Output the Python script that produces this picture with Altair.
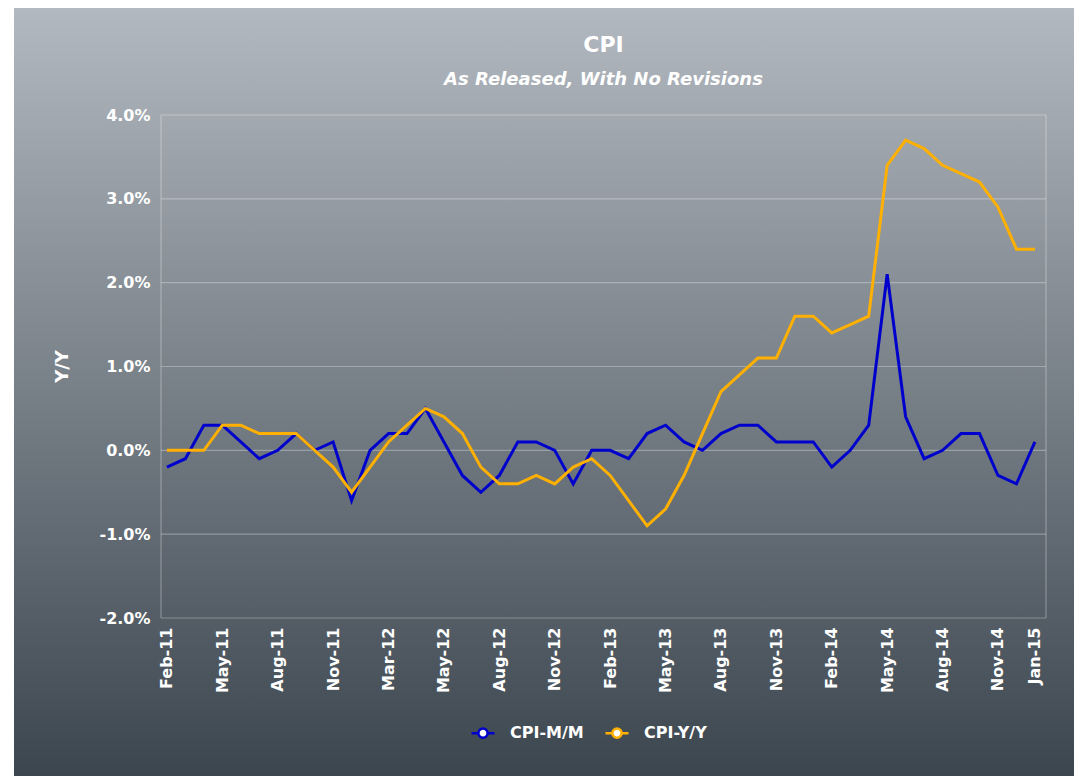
import json
import altair as alt
import pandas as pd

# ---------------- data ----------------
month_index = list(range(48))  # Feb-11 ... Jan-15
cpi_mm = [-0.2, -0.1, 0.3, 0.3, 0.1, -0.1, 0.0, 0.2, 0.0, 0.1,
          -0.6, 0.0, 0.2, 0.2, 0.5, 0.1, -0.3, -0.5, -0.3, 0.1,
          0.1, 0.0, -0.4, 0.0, 0.0, -0.1, 0.2, 0.3, 0.1, 0.0,
          0.2, 0.3, 0.3, 0.1, 0.1, 0.1, -0.2, 0.0, 0.3, 2.1,
          0.4, -0.1, 0.0, 0.2, 0.2, -0.3, -0.4, 0.1]
cpi_yy = [0.0, 0.0, 0.0, 0.3, 0.3, 0.2, 0.2, 0.2, 0.0, -0.2,
          -0.5, -0.2, 0.1, 0.3, 0.5, 0.4, 0.2, -0.2, -0.4, -0.4,
          -0.3, -0.4, -0.2, -0.1, -0.3, -0.6, -0.9, -0.7, -0.3, 0.2,
          0.7, 0.9, 1.1, 1.1, 1.6, 1.6, 1.4, 1.5, 1.6, 3.4,
          3.7, 3.6, 3.4, 3.3, 3.2, 2.9, 2.4, 2.4]
tick_positions = [0, 3, 6, 9, 12, 15, 18, 21, 24, 27, 30, 33, 36, 39, 42, 45, 47]
tick_labels = ["Feb-11", "May-11", "Aug-11", "Nov-11", "Mar-12", "May-12", "Aug-12",
               "Nov-12", "Feb-13", "May-13", "Aug-13", "Nov-13", "Feb-14", "May-14",
               "Aug-14", "Nov-14", "Jan-15"]
y_ticks = [-2, -1, 0, 1, 2, 3, 4]
series_names = ["CPI-M/M", "CPI-Y/Y"]
series_colors = ["#0000cc", "#ffb000"]

# ---------------- layout ----------------
W, H = 885, 503
FONT = "DejaVu Sans"

rows = []
for name, vals in zip(series_names, [cpi_mm, cpi_yy]):
    for i, v in zip(month_index, vals):
        rows.append({"idx": i, "series": name, "value": v})
df = pd.DataFrame(rows)

x_scale = alt.Scale(domain=[-0.32, 47.6], nice=False, zero=False)
y_scale = alt.Scale(domain=[-2, 4], nice=False, zero=False)

label_expr = f"{json.dumps(tick_labels)}[indexof({json.dumps(tick_positions)}, datum.value)]"

x_axis = alt.Axis(values=tick_positions, labelExpr=label_expr, labelAngle=270,
                  labelAlign="right", labelBaseline="middle", labelPadding=9,
                  labelFont=FONT, labelFontSize=16, labelFontWeight="bold",
                  labelColor="white", labelOverlap=False, labelFlush=False,
                  grid=False, domain=False, ticks=False, title=None, zindex=1)
y_axis = alt.Axis(values=y_ticks,
                  labelExpr="(datum.value < 0 ? '-' : '') + format(abs(datum.value), '.1f') + '%'",
                  labelPadding=11, labelFont=FONT, labelFontSize=16,
                  labelFontWeight="bold", labelColor="white",
                  grid=False, domain=False, ticks=False,
                  title="Y/Y", titleX=-99, titleY=251, titleAngle=270,
                  titleAlign="center", titleBaseline="middle", titleFont=FONT,
                  titleFontSize=18, titleFontWeight="bold", titleColor="white",
                  zindex=1)

bg = alt.Chart(pd.DataFrame({"a": [0]})).mark_rect(
    color=alt.Gradient(gradient="linear",
                       stops=[alt.GradientStop(color="#b3b9c0", offset=0),
                              alt.GradientStop(color="#3a444d", offset=1)],
                       x1=0, x2=0, y1=0, y2=1)
).encode(x=alt.value(-147), x2=alt.value(W + 35),
         y=alt.value(-110), y2=alt.value(H + 170))

grid = alt.Chart(pd.DataFrame({"v": y_ticks})).mark_rule(
    color="white", opacity=0.3, strokeWidth=1.2
).encode(y=alt.Y("v:Q", scale=y_scale, axis=y_axis))

frame = alt.Chart(pd.DataFrame({"a": [0]})).mark_rule(
    color="white", opacity=0.3, strokeWidth=1.2
).encode(x=alt.value(0))
frame_r = alt.Chart(pd.DataFrame({"a": [0]})).mark_rule(
    color="white", opacity=0.3, strokeWidth=1.2
).encode(x=alt.value(W))

symbol_path = "M-1,0H-0.4M0.4,0H1M0.4,0A0.4,0.4,0,1,1,-0.4,0A0.4,0.4,0,1,1,0.4,0Z"

lines = alt.Chart(df).mark_line(strokeWidth=3).encode(
    x=alt.X("idx:Q", scale=x_scale, axis=x_axis),
    y=alt.Y("value:Q", scale=y_scale, axis=y_axis),
    color=alt.Color("series:N",
                    scale=alt.Scale(domain=series_names, range=series_colors),
                    legend=alt.Legend(title=None, orient="none", legendX=309,
                                      legendY=605, direction="horizontal",
                                      symbolType=symbol_path, symbolSize=529,
                                      symbolStrokeWidth=2.5, symbolFillColor="white",
                                      labelColor="white", labelFont=FONT,
                                      labelFontSize=16, labelFontWeight="bold",
                                      columnPadding=16, labelOffset=14, padding=0,
                                      zindex=1)),
    order=alt.Order("idx:Q"),
)

chart = alt.layer(bg, grid, frame, frame_r, lines).properties(
    width=W, height=H,
    title=alt.TitleParams(text="CPI", subtitle="As Released, With No Revisions",
                          font=FONT, fontSize=22, fontWeight="bold", color="white",
                          subtitleFont=FONT, subtitleFontSize=18,
                          subtitleFontStyle="italic", subtitleFontWeight="bold",
                          subtitleColor="white", anchor="middle", frame="group",
                          offset=-85, subtitlePadding=14, zindex=1),
    autosize=alt.AutoSizeParams(type="none"),
    padding={"left": 153, "top": 107, "right": 28, "bottom": 158},
    background="white",
).configure_view(stroke=None)

chart.save("out.html", embed_options={"renderer": "svg", "actions": False})
